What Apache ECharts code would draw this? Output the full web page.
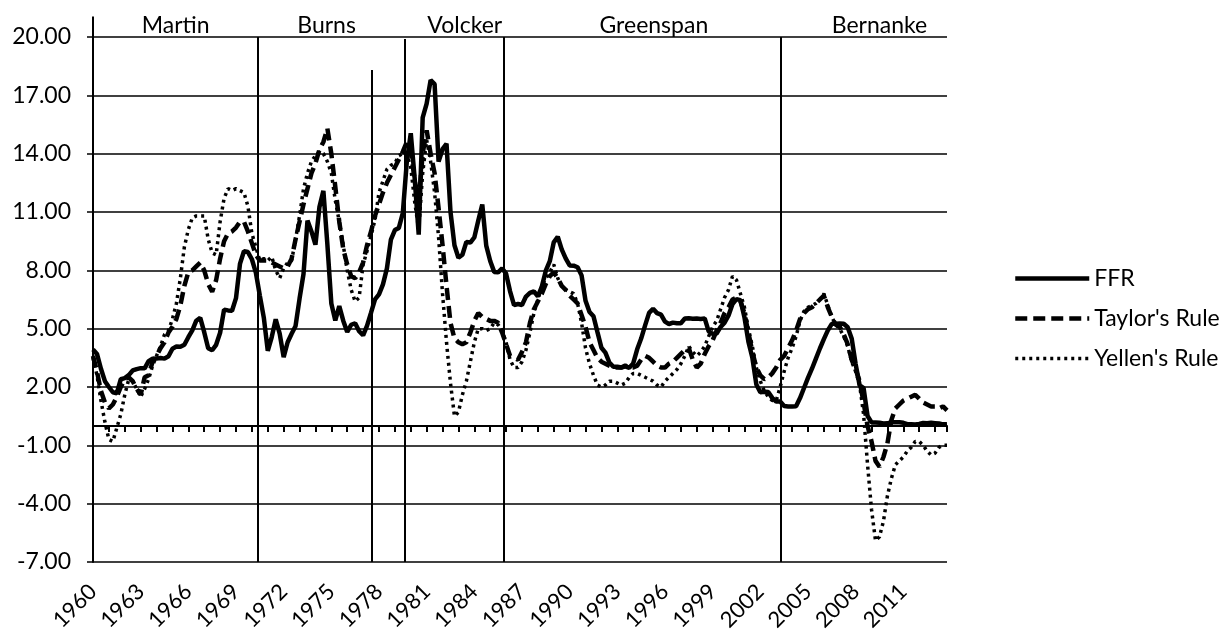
<!DOCTYPE html>
<html><head><meta charset="utf-8">
<script src="https://cdn.jsdelivr.net/npm/echarts@6/dist/echarts.min.js"></script>
<style>html,body{margin:0;padding:0;background:#fff}#c{width:1226px;height:635px}</style>
</head><body><div id="c"></div>
<script>
// Quarterly data, 1960Q1 .. 2013Q4
const startYear = 1960;
const ffr = [
3.93,3.70,2.94,2.30, 2.00,1.73,1.68,2.40, 2.46,2.61,2.85,2.92, 2.97,2.96,3.33,3.45,
3.46,3.49,3.46,3.58, 3.97,4.08,4.07,4.17, 4.56,4.91,5.41,5.56, 4.82,3.99,3.89,4.17,
4.79,5.98,5.94,5.92, 6.57,8.33,8.98,8.94, 8.57,7.88,6.70,5.57, 3.86,4.57,5.48,4.75,
3.54,4.30,4.74,5.14, 6.54,7.82,10.56,10.00, 9.32,11.25,12.09,9.35, 6.30,5.42,6.16,5.41,
4.83,5.20,5.28,4.87, 4.66,5.16,5.82,6.51, 6.76,7.28,8.10,9.58, 10.07,10.18,10.95,13.58,
15.05,12.69,9.84,15.85, 16.57,17.78,17.58,13.59, 14.23,14.51,11.01,9.29, 8.65,8.80,9.46,9.43,
9.69,10.56,11.39,9.27, 8.48,7.92,7.90,8.10, 7.83,6.92,6.21,6.27, 6.22,6.65,6.84,6.92,
6.66,7.16,7.98,8.47, 9.44,9.73,9.08,8.61, 8.25,8.24,8.16,7.74, 6.43,5.86,5.64,4.82,
4.02,3.77,3.26,3.04, 3.04,3.00,3.06,2.99, 3.21,3.94,4.49,5.17, 5.81,6.02,5.80,5.72,
5.36,5.24,5.31,5.28, 5.28,5.52,5.53,5.51, 5.52,5.50,5.53,4.86, 4.73,4.75,5.09,5.31,
5.68,6.27,6.52,6.47, 5.59,4.33,3.50,2.13, 1.73,1.75,1.74,1.44, 1.25,1.25,1.02,1.00,
1.00,1.01,1.43,1.95, 2.47,2.94,3.46,3.98, 4.46,4.91,5.25,5.25, 5.26,5.25,5.07,4.50,
3.18,2.09,1.94,0.51, 0.18,0.18,0.16,0.12, 0.13,0.19,0.19,0.19, 0.16,0.09,0.08,0.07,
0.10,0.15,0.14,0.16, 0.14,0.12,0.08,0.09
];
const taylor = [
3.6,2.8,1.8,1.2, 0.9,1.1,1.5,2.0, 2.4,2.5,2.3,1.9, 1.6,2.5,2.6,3.3,
3.6,4.0,4.3,4.8, 5.1,5.5,6.2,7.2, 7.9,8.0,8.2,8.4, 8.0,7.3,6.9,7.5,
8.6,9.5,9.9,10.0, 10.2,10.5,10.5,10.0, 9.4,8.8,8.5,8.5, 8.5,8.4,8.3,8.2,
8.1,8.2,8.6,9.6, 10.5,11.4,12.2,13.0, 13.5,14.2,14.6,15.3, 14.0,12.3,10.5,9.1,
8.3,7.7,7.6,7.9, 8.4,9.3,10.0,10.8, 11.4,12.0,12.5,12.9, 13.3,13.7,14.1,14.6,
14.2,12.6,11.5,14.0, 15.2,14.0,13.0,11.2, 9.3,7.2,5.3,4.5, 4.3,4.2,4.3,4.8,
5.4,5.8,5.6,5.5, 5.4,5.4,5.3,4.8, 4.2,3.6,3.5,3.4, 3.8,4.3,5.3,6.0,
6.4,6.8,7.3,7.7, 7.9,7.6,7.2,7.0, 6.7,6.5,6.3,5.7, 5.1,4.3,3.9,3.5,
3.3,3.2,3.1,3.0, 3.0,3.0,3.1,3.0, 3.0,3.1,3.4,3.6, 3.5,3.3,3.1,3.0,
3.0,3.2,3.3,3.5, 3.7,3.9,4.0,3.4, 3.0,3.2,3.7,4.1, 4.4,4.9,5.3,5.8,
6.1,6.5,6.6,6.4, 5.8,4.8,3.8,3.0, 2.6,2.4,2.5,2.7, 3.0,3.4,3.6,4.0,
4.4,4.9,5.5,5.8, 6.0,6.1,6.3,6.5, 6.7,6.1,5.6,5.2, 5.1,4.7,4.2,3.4,
2.9,2.3,1.2,0.0, -0.8,-1.8,-2.1,-1.6, -0.9,0.3,0.9,1.1, 1.3,1.4,1.5,1.6,
1.4,1.2,1.1,1.0, 1.0,0.9,1.0,0.8
];
const yellen = [
3.5,2.6,1.3,0.2, -0.7,-0.8,-0.1,0.6, 1.6,2.4,2.3,1.9, 1.5,1.9,2.4,3.1,
3.6,4.1,4.7,4.9, 5.5,6.3,7.6,9.2, 10.1,10.7,10.8,10.8, 10.8,9.6,8.9,8.8,
10.5,11.7,12.2,12.1, 12.2,12.1,12.0,11.3, 9.9,9.2,8.5,8.6, 8.5,8.7,8.0,7.6,
8.1,8.4,8.5,9.6, 10.8,12.2,13.0,13.6, 13.9,14.1,14.0,13.6, 13.0,11.6,10.5,9.3,
8.0,7.0,6.4,6.6, 8.3,9.0,9.8,10.6, 12.0,12.6,13.2,13.4, 13.5,13.9,14.0,14.0,
13.3,11.5,10.1,13.0, 14.7,13.6,12.0,9.7, 6.8,4.3,2.2,0.5, 0.7,1.6,2.3,3.3,
4.3,5.0,5.0,4.9, 5.0,5.3,5.2,4.9, 4.3,3.4,3.0,3.0, 3.3,3.9,4.8,5.8,
6.5,7.2,7.6,7.9, 8.3,7.6,7.2,7.0, 6.9,6.8,6.3,5.3, 4.0,3.2,2.6,2.1,
2.0,2.1,2.3,2.3, 2.2,2.1,2.2,2.5, 2.7,2.7,2.6,2.5, 2.4,2.3,2.1,2.0,
2.3,2.5,2.7,2.9, 3.2,3.6,4.1,3.8, 3.6,3.8,4.1,4.6, 5.1,5.4,6.0,6.6,
7.0,7.7,7.5,6.8, 6.1,5.0,4.1,3.0, 2.3,1.8,1.5,1.3, 1.3,2.0,2.8,3.5,
4.0,4.6,5.4,5.9, 6.1,6.2,6.3,6.5, 6.8,6.2,5.6,5.2, 5.0,4.6,4.1,3.3,
2.8,2.1,0.6,-2.0, -4.3,-5.9,-5.7,-4.9, -3.6,-2.7,-2.0,-1.8, -1.6,-1.3,-1.1,-0.8,
-0.8,-1.0,-1.3,-1.5, -1.4,-1.1,-1.0,-1.0
];
const seriesNames = ['FFR', "Taylor's Rule", "Yellen's Rule"];
const chairNames = ['Martin', 'Burns', 'Volcker', 'Greenspan', 'Bernanke'];
const chairLabelYears = [1965.2, 1974.7, 1983.4, 1995.3, 2009.5];
const chairLineYears = [1970.4, 1977.55, 1979.63, 1985.83, 2003.28];
const chairLineTops = [20, 18.3, 19.9, 20, 20];

const quarters = ffr.map((_, i) => startYear + i / 4);
const pairs = arr => arr.map((v, i) => [quarters[i], v]);
const FONT = 'Lato, "Liberation Sans", sans-serif';

const styles = [
  {color: '#000', width: 4.5, type: 'solid'},
  {color: '#000', width: 4.5, type: [12, 6]},
  {color: '#000', width: 3.5, type: [3, 4]}
];

const chart = echarts.init(document.getElementById('c'), null, {renderer: 'canvas'});
const xMin = startYear, xMax = quarters[quarters.length - 1];

const option = {
  animation: false,
  backgroundColor: '#fff',
  textStyle: {fontFamily: FONT, color: '#000'},
  grid: {left: 93, right: 279, top: 37, bottom: 73, containLabel: false, outerBoundsMode: 'none'},
  legend: {
    orient: 'vertical', left: 1008, top: 262, itemWidth: 74, itemHeight: 20, itemGap: 17,
    textStyle: {fontFamily: FONT, fontSize: 23, color: '#000'},
    itemStyle: {opacity: 0, borderWidth: 0},
    data: seriesNames.map((n, i) => ({name: n, itemStyle: {opacity: 0, borderWidth: 0}, lineStyle: styles[i]}))
  },
  xAxis: [{
    type: 'value', min: xMin, max: xMax, interval: 1,
    axisLine: {show: false, onZero: false},
    axisTick: {show: false},
    splitLine: {show: false},
    axisLabel: {
      rotate: 45, margin: 26, fontSize: 22, color: '#000', fontFamily: FONT,
      showMaxLabel: false,
      formatter: v => (Number.isInteger(v) && (v - startYear) % 3 === 0) ? String(v) : ''
    }
  }, {
    type: 'value', min: xMin, max: xMax, interval: 1, position: 'bottom',
    axisLine: {show: true, onZero: true, lineStyle: {color: '#000', width: 2}},
    axisTick: {show: true, length: 6, lineStyle: {color: '#000', width: 2}},
    axisLabel: {show: false},
    splitLine: {show: false}
  }],
  yAxis: {
    type: 'value', min: -7, max: 20, interval: 3,
    axisLine: {show: true, lineStyle: {color: '#000', width: 2}},
    axisTick: {show: true, length: 6, lineStyle: {color: '#000', width: 1.5}},
    splitLine: {show: true, lineStyle: {color: '#000', width: 1.5}},
    axisLabel: {margin: 22, fontSize: 23, color: '#000', fontFamily: FONT, formatter: v => v.toFixed(2)}
  },
  series: [{
    name: seriesNames[0], type: 'line', xAxisIndex: 0, data: pairs(ffr), symbol: 'none',
    lineStyle: styles[0], itemStyle: {color: '#000'}, z: 4,
    markLine: {
      silent: true, symbol: 'none', label: {show: false},
      lineStyle: {color: '#000', width: 2, type: 'solid'},
      data: chairLineYears.map((yr, i) => [{coord: [yr, chairLineTops[i]]}, {coord: [yr, -7]}])
    }
  }, {
    name: seriesNames[1], type: 'line', xAxisIndex: 0, data: pairs(taylor), symbol: 'none',
    lineStyle: styles[1], itemStyle: {color: '#000'}, z: 3
  }, {
    name: seriesNames[2], type: 'line', xAxisIndex: 0, data: pairs(yellen), symbol: 'none',
    lineStyle: styles[2], itemStyle: {color: '#000'}, z: 2
  }]
};
chart.setOption(option);

const px = (x, y) => chart.convertToPixel({gridIndex: 0}, [x, y]);
const graphics = chairNames.map((n, i) => {
  const p = px(chairLabelYears[i], 20.6);
  return {type: 'text', x: p[0], y: p[1], style: {text: n, fill: '#000', font: '23px ' + FONT,
    textAlign: 'center', textVerticalAlign: 'middle', align: 'center', verticalAlign: 'middle'}};
});
const a = px(xMin, 21.05), b = px(xMin, 20);
graphics.push({type: 'line', shape: {x1: a[0], y1: a[1], x2: b[0], y2: b[1]}, style: {stroke: '#000', lineWidth: 2}});
chart.setOption({graphic: graphics});
</script></body></html>
